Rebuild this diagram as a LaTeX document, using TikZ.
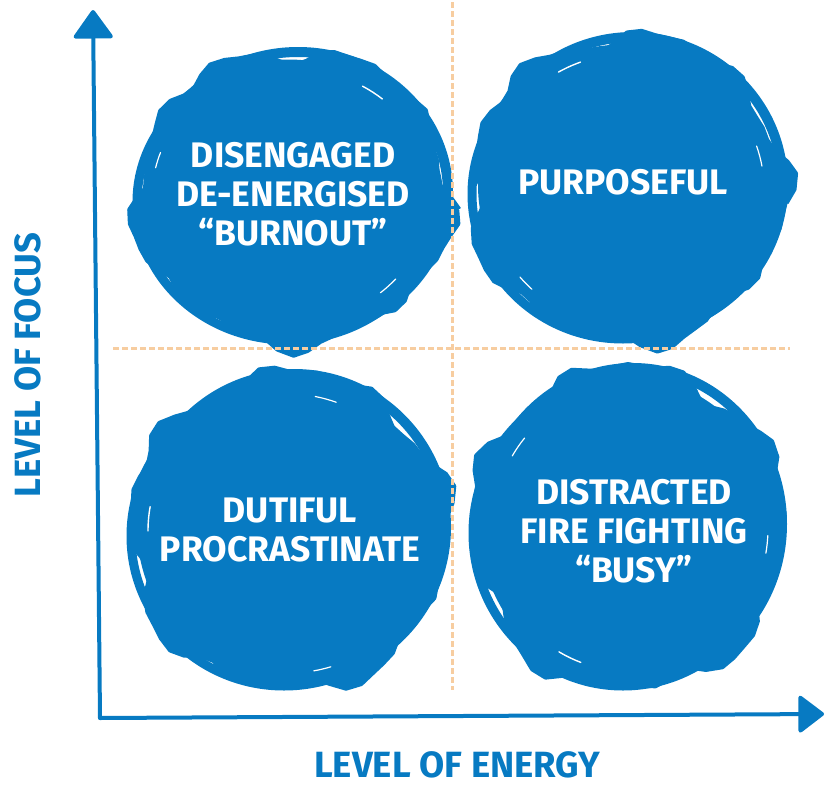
\documentclass[tikz,border=0pt]{standalone}
\usepackage{fontspec}
\setmainfont{Fira Sans}
\usetikzlibrary{arrows.meta,decorations.pathmorphing}

\definecolor{inkblue}{RGB}{7,122,194}
\definecolor{guide}{RGB}{247,205,160}

% Scribbled ink blob: centre (#1,#2), radii #3 and #4, wobble phase #5
\newcommand{\inkblob}[5]{%
  \filldraw[inkblue, line width=5pt, line join=round,
            decorate, decoration={random steps, segment length=13pt, amplitude=3.5pt}]
    plot[smooth cycle, samples=72, domain=0:355]
    ({#1+(#3-6)*(1+0.035*sin(5*\x+#5)+0.03*sin(9*\x+2*#5)+0.015*sin(17*\x+3*#5))*cos(\x)},
     {#2+(#4-6)*(1+0.035*sin(5*\x+#5)+0.03*sin(9*\x+2*#5)+0.015*sin(17*\x+3*#5))*sin(\x)});
  \draw[inkblue, line width=10pt, line cap=round]
    ({#1+5},{#2-4}) ellipse [x radius={#3-11}, y radius={#4-9}];
  \draw[inkblue, line width=9pt]
    ({#1-5},{#2+5}) ellipse [x radius={#3-10}, y radius={#4-12}];
  % thin gaps left between the scribble strokes
  \draw[white, line width=1.4pt, line cap=round]
    ({#1+(#3-22)*cos(40+#5)},{#2-(#4-22)*sin(40+#5)})
      arc[start angle={40+#5}, end angle={50+#5}, x radius={#3-22}, y radius={-(#4-22)}];
  \draw[white, line width=1.2pt, line cap=round]
    ({#1+(#3-20)*cos(150+#5)},{#2-(#4-20)*sin(150+#5)})
      arc[start angle={150+#5}, end angle={157+#5}, x radius={#3-20}, y radius={-(#4-20)}];
  \draw[white, line width=1.2pt, line cap=round]
    ({#1+(#3-25)*cos(300+#5)},{#2-(#4-25)*sin(300+#5)})
      arc[start angle={300+#5}, end angle={309+#5}, x radius={#3-25}, y radius={-(#4-25)}];
}

\tikzset{
  axis/.style={inkblue, line width=4pt, line cap=round},
  guideline/.style={guide, line width=3pt, dash pattern=on 6pt off 3pt},
  blobtext/.style={text=white, align=center, inner sep=0pt,
    font=\fontsize{35.5}{39}\selectfont\bfseries},
  axislabel/.style={text=inkblue, inner sep=0pt,
    font=\fontsize{36.5}{42}\selectfont\bfseries},
}

\begin{document}
\begin{tikzpicture}[x=1pt, y=-1pt]
  \useasboundingbox (0,0) rectangle (825,787);
  \pgfmathsetseed{4217}

  % the four ink blobs
  \inkblob{293}{197}{161}{150}{10}
  \inkblob{628}{189}{161}{157}{70}
  \inkblob{289}{531}{163}{162}{130}
  \inkblob{628}{528}{160}{165}{200}

  % quadrant guides
  \coordinate (gtop) at (452,2);
  \coordinate (gbottom) at (452,690);
  \coordinate (gleft) at (113,348);
  \coordinate (gright) at (790,348);
  \draw[guideline] (gtop) -- (gbottom);
  \draw[guideline] (gleft) -- (gright);

  % axes
  \coordinate (origin) at (100,718);
  \coordinate (ytip) at (93,10);
  \coordinate (xtip) at (824,714);
  \draw[axis, -{Triangle[length=30pt, width=42pt, round]}] (origin) -- (ytip);
  \draw[axis, -{Triangle[length=27pt, width=40pt, round]}] (origin) -- (xtip);

  % quadrant labels
  \node[blobtext] (burnout) at (293,194) {DISENGAGED\\DE-ENERGISED\\``BURNOUT''};
  \node[blobtext] (purposeful) at (623,182) {PURPOSEFUL};
  \node[blobtext] (dutiful) at (290,530) {DUTIFUL\\PROCRASTINATE};
  \node[blobtext] (busy) at (634,531) {DISTRACTED\\FIRE FIGHTING\\``BUSY''};

  % axis labels
  \node[axislabel] (energy) at (457,765) {LEVEL OF ENERGY};
  \node[axislabel, rotate=90] (focus) at (28,365) {LEVEL OF FOCUS};
\end{tikzpicture}
\end{document}
